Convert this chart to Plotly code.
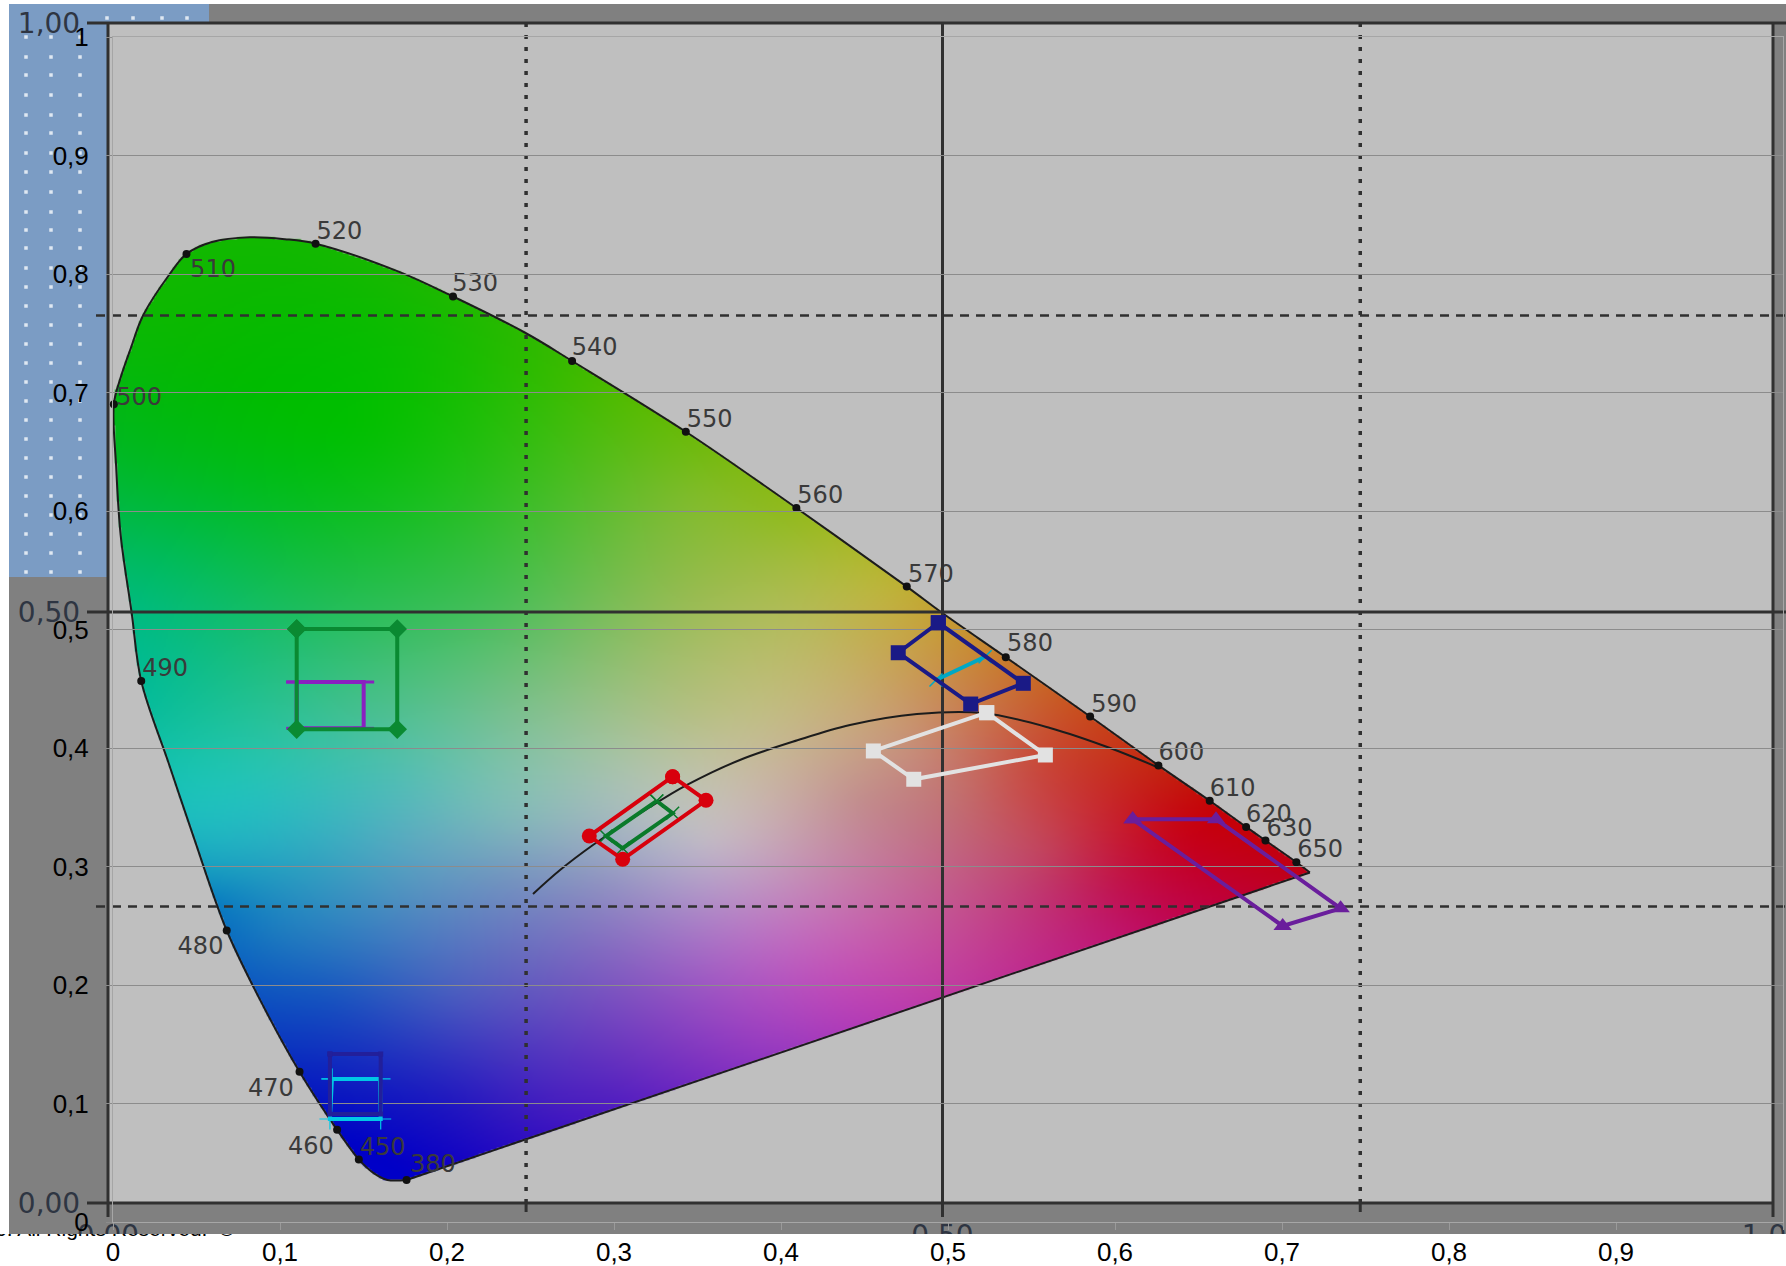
import base64, struct, zlib
import numpy as np
import plotly.graph_objects as go

W, H = 1786, 1266
# chart frame in page pixels
X0, X1, Y0, Y1 = 113, 1783, 1222, 37
# background-picture frame in page pixels
OX0, OX1, OY0, OY1 = 108, 1773, 1203, 23
CUT = 1234

# ---- locus ---------------------------------------------------------------
locus_x = [.1758,.1643,.1561,.1472,.1342,.1117,.0906,.0681,.0483,.0333,.0169,.0111,.0046,.0019,.0005,.0042,.0108,.0180,.0340,.0440,.0593,.0820,.1029,.1213,.1710,.2036,.2473,.2749,.3430,.4092,.4753,.4964,.5346,.5851,.6260,.6567,.6785,.6901,.7086,.7167]
locus_y = [.0355,.0355,.0412,.0528,.0778,.1268,.1806,.2460,.3248,.3873,.4565,.5148,.5795,.6372,.6900,.7110,.7380,.7650,.8000,.8169,.8270,.8310,.8294,.8256,.8020,.7810,.7500,.7266,.6669,.6025,.5362,.5141,.4766,.4266,.3853,.3555,.3334,.3219,.3036,.2950]
planck_x = [.2515,.2677,.2874,.3216,.3437,.3754,.4098,.4413,.4814,.5210,.5611,.5970,.6251]
planck_y = [.2768,.2970,.3181,.3502,.3688,.3899,.4065,.4194,.4287,.4295,.4169,.4000,.3840]

wl_names = ["380","450","460","470","480","490","500","510","520","530","540","550","560","570","580","590","600","610","620","630","650"]
wl_dot_x = [.1758,.1472,.1342,.1117,.0681,.0169,.0005,.0440,.1213,.2036,.2749,.3430,.4092,.4753,.5346,.5851,.6260,.6567,.6785,.6901,.7086]
wl_dot_y = [.0355,.0528,.0778,.1268,.2460,.4565,.6900,.8169,.8256,.7810,.7266,.6669,.6025,.5362,.4766,.4266,.3853,.3555,.3334,.3219,.3036]
wl_txt_x = [.1915,.1615,.1185,.0946,.0524,.0312,.0156,.0599,.1356,.2168,.2884,.3573,.4235,.4897,.5491,.5995,.6397,.6704,.6922,.7045,.7229]
wl_txt_y = [.0474,.0618,.0628,.1118,.2310,.4655,.6942,.8028,.8345,.7904,.7366,.6760,.6116,.5453,.4867,.4357,.3953,.3646,.3425,.3309,.3127]

# ---- colour samples of the gamut fill --------------------------------------
sample_x = [.348,.348,.2335,.1186,.027,.027,.142,.2335,.348,.142,.187,.256,
            .082,.1737,.2347,.2958,.357,.387,.387,.4485,.479,.4485,.54,.5096,.387,.403,.342,.2958,.2347,.1737,.097,.1275,.204,.2958,.4335,.387,.326,.265,.204,.1677,.54,.559,.559,
            .64,.681,.581,.541,.601,.561,.541,.501,.461,.441,.593,.641,.657,.40,.42,.38,
            .01,.03,.09,.20,.30,.35,.40,.06,.08,.10,.12,.15,.04,.02,.01,.30,.40,.50,.60,.68,.23,
            .06,.12,.18]
sample_y = [.612,.527,.527,.556,.556,.43,.43,.43,.43,.668,.753,.725,
            .356,.3705,.342,.3705,.322,.384,.426,.426,.398,.356,.356,.356,.30,.244,.30,.286,.286,.272,.244,.187,.187,.215,.196,.1595,.131,.103,.103,.046,.215,.272,.314,
            .333,.291,.333,.362,.277,.39,.418,.474,.531,.502,.40,.375,.348,.56,.50,.47,
            .65,.78,.82,.78,.70,.65,.59,.27,.21,.16,.11,.06,.34,.44,.52,.105,.15,.20,.245,.285,.07,
            .30,.30,.32]
sample_c = ["#85bb30","#9abb50","#45bf55","#15bd40","#00bb60","#10bd95","#45bf90","#78bf90","#b5bd80","#00c000","#10bd00","#30bb00",
            "#20c0c0","#50bdb8","#80bdb8","#a5c0b5","#c8c0c8","#c8b8a0","#c0c088","#c8a878","#c89080","#c08888","#c85050","#c07070","#c0a0c0","#c070c0","#b0a8c8","#9090c0","#7090c0","#5090c0","#2080c0","#1050c0","#4b5cc0","#8060c0","#c048b8","#a03fc0","#7030c0","#4c20c0","#2018c0","#0000c8","#c03090","#c03070","#c04a60",
            "#c80010","#c00020","#c83040","#c85050","#c01050","#c84030","#c86040","#c89040","#c0b840","#c0b050","#c83c20","#c02010","#c80008","#a0bb40","#b8bb60","#b8bd70",
            "#00b820","#10b800","#10b800","#20b800","#50bb00","#70bb10","#90bb20","#0070c0","#1060c0","#1040c0","#0818c0","#0000c8","#20c0c0","#00bba0","#00bb80","#5020c0","#9840c0","#c040a0","#c01870","#c00030","#2810c0",
            "#20a8c0","#30a0c0","#60a8c0"]

# ---- series (chart coordinates) -------------------------------------------
red_x = [.3351,.3551,.3052,.2852];     red_y = [.3758,.3559,.3061,.3257]
greenin_x = [.3256,.3351,.3052,.2952]; greenin_y = [.3553,.3449,.3154,.3257]
green_x = [.1100,.1702,.1702,.1100];   green_y = [.5004,.5004,.4158,.4158]
purple_x = [.1100,.1501,.1501,.1100];  purple_y = [.4557,.4557,.4166,.4166]
navy_x = [.1299,.1603,.1603,.1299];    navy_y = [.1418,.1418,.0911,.0911]
cyan_x = [.1311,.1599,.1603,.1299];    cyan_y = [.1207,.1207,.0869,.0869]
dark_x = [.4942,.5451,.5136,.4702];    dark_y = [.5057,.4546,.4371,.4804]
teal_x = [.4928,.5222];                teal_y = [.4574,.4770]
white_x = [.5232,.5583,.4795,.4553];   white_y = [.4298,.3941,.3736,.3975]
violet_x = [.6106,.6605,.7351,.7004];  violet_y = [.3398,.3398,.2647,.2498]

tick_vals = [0,.1,.2,.3,.4,.5,.6,.7,.8,.9,1]
tick_text = ["0","0,1","0,2","0,3","0,4","0,5","0,6","0,7","0,8","0,9","1"]
old_labels = ["1,00","0,50","0,00"]
# guide lines of the background picture, on its own scale
guide_v_solid = .5012
guide_v_dash = [.2511, .7521]
guide_h_solid = .5008
guide_h_dash = [.7521, .2512]


def px(x):
    return x / W


def py(y):
    return 1 - y / H


def png_uri(rgba):
    h, w, _ = rgba.shape
    raw = b"".join(b"\x00" + rgba[i].tobytes() for i in range(h))

    def chunk(t, d):
        return struct.pack(">I", len(d)) + t + d + struct.pack(">I", zlib.crc32(t + d) & 0xffffffff)

    data = b"\x89PNG\r\n\x1a\n" + chunk(b"IHDR", struct.pack(">IIBBBBB", w, h, 8, 6, 0, 0, 0)) + chunk(b"IDAT", zlib.compress(raw, 6)) + chunk(b"IEND", b"")
    return "data:image/png;base64," + base64.b64encode(data).decode()


def tps_kernel(d2):
    return 0.5 * d2 * np.log(d2 + 1e-12)


def rounded_outline(xs, ys, steps=8):
    """Rounds the read outline for the fill mask; the long purple edge stays straight."""
    p = np.column_stack([xs, ys])
    out = []
    n = len(p)
    for i in range(n - 1):
        p0, p1, p2, p3 = p[max(i - 1, 0)], p[i], p[i + 1], p[min(i + 2, n - 1)]
        for t in np.linspace(0, 1, steps, endpoint=False):
            out.append(.5 * (2 * p1 + (p2 - p0) * t + (2 * p0 - 5 * p1 + 4 * p2 - p3) * t ** 2 + (3 * p1 - p0 - 3 * p2 + p3) * t ** 3))
    out.append(p[-1])
    return np.array(out)


def gamut_image(nx=835, ny=592):
    gx = (np.arange(nx) + .5) / nx
    gy = 1 - (np.arange(ny) + .5) / ny
    xx, yy = np.meshgrid(gx, gy)
    inside = np.zeros_like(xx, dtype=bool)
    ol = rounded_outline(locus_x, locus_y)
    lx, ly = ol[:, 0], ol[:, 1]
    for i in range(len(lx)):
        x1, y1, x2, y2 = lx[i], ly[i], lx[(i + 1) % len(lx)], ly[(i + 1) % len(lx)]
        if y1 == y2:
            continue
        cond = (y1 > yy) != (y2 > yy)
        inside ^= cond & (xx < (x2 - x1) * (yy - y1) / (y2 - y1) + x1)
    sx, sy = np.array(sample_x), np.array(sample_y)
    cols = np.array([[int(c[i:i + 2], 16) for i in (1, 3, 5)] for c in sample_c], dtype=float)
    n = len(sx)
    K = tps_kernel((sx[:, None] - sx) ** 2 + (sy[:, None] - sy) ** 2) + np.eye(n) * 2e-3
    P = np.column_stack([np.ones(n), sx, sy])
    A = np.block([[K, P], [P.T, np.zeros((3, 3))]])
    b = np.vstack([cols, np.zeros((3, 3))])
    coef = np.linalg.solve(A, b)
    idx = np.nonzero(inside)
    qx, qy = xx[idx], yy[idx]
    Kq = tps_kernel((qx[:, None] - sx) ** 2 + (qy[:, None] - sy) ** 2)
    Pq = np.column_stack([np.ones(len(qx)), qx, qy])
    col = Kq @ coef[:n] + Pq @ coef[n:]
    img = np.zeros((ny, nx, 4), dtype=np.uint8)
    img[idx[0], idx[1], :3] = np.clip(col, 0, 200).astype(np.uint8)
    img[idx[0], idx[1], 3] = 255
    return png_uri(img)


fig = go.Figure()
FIG_DOMX = [px(X0), px(X1)]
FIG_DOMY = [py(Y0), py(Y1)]

# ---- subplot 1: gamut of the background picture ---------------------------
fig.add_trace(go.Scatter(x=locus_x, y=locus_y, mode="lines", line=dict(color="#1c1c1c", width=2, shape="spline", smoothing=1), xaxis="x", yaxis="y", cliponaxis=False, hoverinfo="skip"))
fig.add_trace(go.Scatter(x=[locus_x[-1], locus_x[0]], y=[locus_y[-1], locus_y[0]], mode="lines", line=dict(color="#1c1c1c", width=2), xaxis="x", yaxis="y", cliponaxis=False, hoverinfo="skip"))
fig.add_trace(go.Scatter(x=planck_x, y=planck_y, mode="lines", line=dict(color="#1c1c1c", width=2, shape="spline"), xaxis="x", yaxis="y", hoverinfo="skip"))
fig.add_trace(go.Scatter(x=wl_dot_x, y=wl_dot_y, mode="markers", marker=dict(color="#111111", size=8), xaxis="x", yaxis="y", cliponaxis=False, hoverinfo="skip"))
fig.add_trace(go.Scatter(x=wl_txt_x, y=wl_txt_y, text=wl_names, mode="text", textposition="middle center", textfont=dict(family="DejaVu Sans", size=24, color="#3a3a3a"), xaxis="x", yaxis="y", cliponaxis=False, hoverinfo="skip"))

# ---- subplot 2: frame of the background picture, clipped at its lower edge -
ounit_x = OX1 - OX0
ounit_y = OY0 - OY1
ox_rng = [-OX0 / ounit_x, (W - OX0) / ounit_x]
oy_rng = [(OY0 - CUT) / ounit_y, OY0 / ounit_y]
dots_px_x = [26, 51, 80]
dots_px_y = [37, 57, 75, 95, 115, 133, 153, 172, 192, 212, 230, 248, 268, 287, 306, 325, 344, 363, 382, 401, 420, 439, 458, 477, 496, 515, 534, 553, 572]
dot_x = [(a - OX0) / ounit_x for _ in dots_px_y for a in dots_px_x] + [(a - OX0) / ounit_x for a in (107, 133, 162, 187)]
dot_y = [(OY0 - b) / ounit_y for b in dots_px_y for _ in dots_px_x] + [(OY0 - 18) / ounit_y] * 4
fig.add_trace(go.Scatter(x=dot_x, y=dot_y, mode="markers", marker=dict(color="#dfe8f2", size=3.5, symbol="square"), xaxis="x2", yaxis="y2", hoverinfo="skip"))
lab_x = [(49 - OX0) / ounit_x] * 3
lab_y = [.9975, .4985, -.0025]
fig.add_trace(go.Scatter(x=lab_x, y=lab_y, text=old_labels, mode="text", textposition="middle center", textfont=dict(family="DejaVu Sans", size=28, color="#2e3542"), xaxis="x2", yaxis="y2", hoverinfo="skip"))
fig.add_trace(go.Scatter(x=[0, .5012, 1], y=[(OY0 - 1238) / ounit_y] * 3, text=["0,00", "0,50", "1,00"], mode="text", textposition="middle center", textfont=dict(family="DejaVu Sans", size=28, color="#2e3542"), xaxis="x2", yaxis="y2", hoverinfo="skip"))

# ---- subplot 3: the chart itself -------------------------------------------
def poly(xs, ys, color, symbol, size, width=3.3, mline=None):
    marker = dict(color=color, size=size, symbol=symbol)
    if mline:
        marker["line"] = dict(color=color, width=mline)
    n = len(xs)
    fig.add_trace(go.Scatter(x=list(xs) + ([xs[0]] if n > 2 else []), y=list(ys) + ([ys[0]] if n > 2 else []), mode="lines+markers", line=dict(color=color, width=width), marker=marker, xaxis="x3", yaxis="y3", cliponaxis=False))


poly(purple_x, purple_y, "#8a20c0", "line-ew", 15, 4, 3)
poly(cyan_x, cyan_y, "#00c8e6", "cross-thin", 15, 4, 1.2)
poly(teal_x, teal_y, "#00a8c4", "x-thin", 13, 4, 1.5)
poly(greenin_x, greenin_y, "#0a7a2a", "x-thin", 13, 4, 1.5)
poly(red_x, red_y, "#d8000c", "circle", 15, 4)
poly(green_x, green_y, "#0a8a32", "diamond", 15, 4)
poly(navy_x, navy_y, "#221f9a", "square", 5, 4)
poly(dark_x, dark_y, "#1a1a86", "square", 15, 4)
poly(white_x, white_y, "#e2e2e2", "square", 15, 4)
poly(violet_x, violet_y, "#6a1e9c", "triangle-up", 16, 4)

# ---- subplot 4: footer line beneath the picture ----------------------------
fig.add_trace(go.Scatter(x=[-5], y=[1231], text=["6. All Rights Reserved.  \u00a9"], mode="text", textposition="middle right", textfont=dict(family="Liberation Sans", size=21, color="#000000"), xaxis="x4", yaxis="y4", hoverinfo="skip"))

rect_colors = "#808080"
bg_rects = [
    (9, 4, 209, 577, "#7b9cc4"),
    (209, 4, W, OY1, rect_colors),
    (9, 577, OX0, CUT, rect_colors),
    (OX0, OY0, W, CUT, rect_colors),
    (OX1, OY1, W, OY0, rect_colors),
    (OX0, OY1, OX1, OY0, "#bfbfbf"),
]
shapes = [dict(type="rect", xref="paper", yref="paper", x0=px(a), x1=px(c), y0=py(b), y1=py(d), fillcolor=col, line=dict(width=0), layer="below") for a, b, c, d, col in bg_rects]


def old_line(x0, y0, x1, y1, width=3, dash="solid", color="#303030"):
    shapes.append(dict(type="line", xref="x2", yref="y2", x0=x0, y0=y0, x1=x1, y1=y1, line=dict(color=color, width=width, dash=dash), layer="between"))


stub = 21 / ounit_x      # tick stubs left of the frame
stub_y = 14 / ounit_y    # tick stubs below the frame
for v in (0, guide_v_solid, 1):
    old_line(v, -stub_y, v, 1)
old_line(-stub, 0, 1, 0)
old_line(-stub, guide_h_solid, ox_rng[1], guide_h_solid)
old_line(-stub, 1, ox_rng[1], 1)
for v in guide_v_dash:
    old_line(v, 0, v, 1, 3.5, "4px,8px")
    old_line(v, -9 / ounit_y, v, 0)
for v in guide_h_dash:
    old_line(-12 / ounit_x, v, ox_rng[1], v, 2.5, "9px,7px")

hidden = dict(visible=False, fixedrange=True, automargin=False)
fig.update_layout(
    template="none",
    width=W, height=H, autosize=False,
    margin=dict(l=0, r=0, t=0, b=0, pad=0, autoexpand=False),
    paper_bgcolor="white", plot_bgcolor="rgba(0,0,0,0)",
    showlegend=False, shapes=shapes,
    font=dict(family="Liberation Sans", color="#000000"),
    images=[dict(source=gamut_image(), xref="x", yref="y", x=0, y=1, sizex=1, sizey=1, sizing="stretch", layer="below")],
    xaxis=dict(domain=FIG_DOMX, range=[0, 1], anchor="y", **hidden),
    yaxis=dict(domain=FIG_DOMY, range=[0, 1], anchor="x", **hidden),
    xaxis2=dict(domain=[0, 1], range=ox_rng, anchor="y2", **hidden),
    yaxis2=dict(domain=[py(CUT), 1], range=oy_rng, anchor="x2", **hidden),
    xaxis3=dict(domain=FIG_DOMX, range=[0, 1], anchor="y3", tickmode="array", tickvals=tick_vals, ticktext=tick_text, automargin=False,
                showgrid=False, zeroline=False, showline=True, linecolor="#a6a6a6", linewidth=1, mirror=True,
                ticks="outside", ticklen=7, tickcolor="#9a9a9a", tickwidth=1, tickfont=dict(size=26, color="#000000"), ticklabelstandoff=0, fixedrange=True),
    yaxis3=dict(domain=FIG_DOMY, range=[0, 1], anchor="x3", tickmode="array", tickvals=tick_vals, ticktext=tick_text, automargin=False,
                showgrid=True, gridcolor="#8c8c8c", gridwidth=1, zeroline=False, showline=True, linecolor="#a6a6a6", linewidth=1, mirror=True,
                ticks="outside", ticklen=6, tickcolor="#8c8c8c", tickwidth=1, tickfont=dict(size=26, color="#000000"), ticklabelstandoff=12, fixedrange=True),
    xaxis4=dict(domain=[0, 1], range=[0, W], anchor="y4", **hidden),
    yaxis4=dict(domain=[0, py(CUT)], range=[H, CUT], anchor="x4", **hidden),
)

fig.write_html("out.html", config=dict(displayModeBar=False), post_script="document.body.style.margin='0';document.body.style.overflow='hidden';")
